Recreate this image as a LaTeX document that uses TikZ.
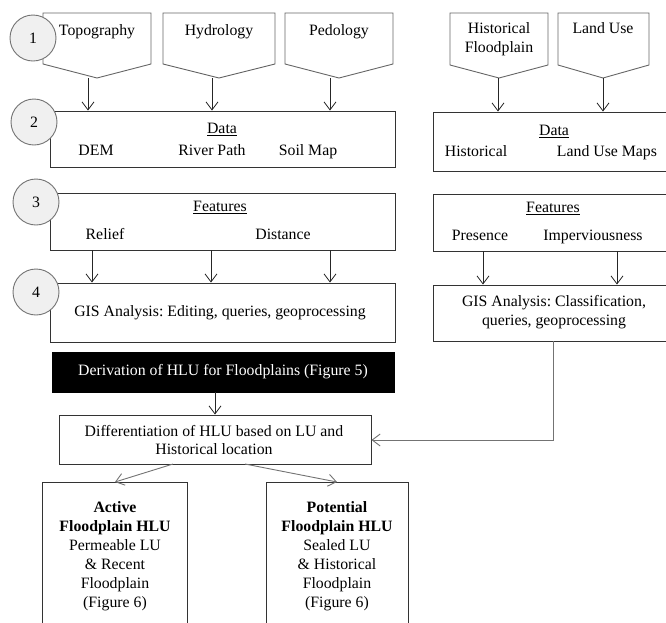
\documentclass[tikz,border=0pt]{standalone}
\usepackage{fontspec}
\setmainfont{Liberation Serif}
\usetikzlibrary{arrows.meta,fit}
\newcommand\myfs{\fontsize{15.8}{18.5}\selectfont\frenchspacing}
\begin{document}
\frenchspacing
\begin{tikzpicture}[x=1pt,y=-1pt,
  every node/.style={font=\myfs},
  bx/.style={draw=black!80, line width=0.9pt, fill=white, inner sep=0pt},
  blk/.style={draw=black, fill=black, inner sep=0pt},
  pent/.style={draw=black!60, line width=0.9pt, fill=white},
  num/.style={circle, draw=black!55, fill=black!6, line width=0.9pt, minimum size=46pt, inner sep=0pt},
  arr/.style={draw=black!85, line width=0.8pt, -{Straight Barb[length=8pt,width=12pt]}},
  garr/.style={draw=black!55, line width=0.9pt, -{Straight Barb[length=8pt,width=12pt]}},
  lbl/.style={inner sep=0pt, text height=10.9pt, text depth=3.5pt, align=center},
  lbl2/.style={inner sep=0pt, align=center, font=\fontsize{15.8}{19}\selectfont\frenchspacing}
]
\useasboundingbox (0,0) rectangle (666,622);
\clip (0,0) rectangle (666,622);

% pentagons (left group)
\draw[pent] (43,13) -- (151,13) -- (151,64) -- (97,78) -- (43,64) -- cycle;
\draw[pent] (163,13) -- (275,13) -- (275,64) -- (219,78) -- (163,64) -- cycle;
\draw[pent] (285,13) -- (393,13) -- (393,64) -- (339,78) -- (285,64) -- cycle;
% pentagons (right group)
\draw[pent] (450,13) -- (548,13) -- (548,65) -- (499,78) -- (450,65) -- cycle;
\draw[pent] (558,13) -- (649,13) -- (649,65) -- (603,78) -- (558,65) -- cycle;

\node[lbl] (topo) at (97,32) {Topography};
\node[lbl] (hydro) at (219,32) {Hydrology};
\node[lbl] (pedo) at (339,32) {Pedology};
\node[lbl2] (histfp) at (499,39) {Historical\\Floodplain};
\node[lbl] (landuse) at (603,30) {Land Use};

\coordinate (ptopo) at (88,78);
\coordinate (phydro) at (212,78);
\coordinate (ppedo) at (330,78);
\coordinate (phist) at (498,78);
\coordinate (pland) at (603,78);

% Data boxes
\node[bx, fit={(50,111) (395,167)}] (dataL) {};
\node[bx, fit={(433,112) (690,171)}] (dataR) {};
\node[lbl] (dataLt) at (222,130) {\underline{Data}};
\node[lbl] (dem) at (96,152) {DEM};
\node[lbl] (river) at (212,152) {River Path};
\node[lbl] (soil) at (308,152) {Soil Map};
\node[lbl] (dataRt) at (554,132) {\underline{Data}};
\node[lbl] (histm) at (476,153) {Historical};
\node[lbl] (lum) at (607,153) {Land Use Maps};

\draw[arr] (ptopo) -- (ptopo |- dataL.north);
\draw[arr] (phydro) -- (phydro |- dataL.north);
\draw[arr] (ppedo) -- (ppedo |- dataL.north);
\draw[arr] (phist) -- (phist |- dataR.north);
\draw[arr] (pland) -- (pland |- dataR.north);

% Features boxes
\node[bx, fit={(50,193) (395,250)}] (featL) {};
\node[bx, fit={(433,194) (690,251)}] (featR) {};
\node[lbl] (featLt) at (220,208) {\underline{Features}};
\node[lbl] (relief) at (105,236) {Relief};
\node[lbl] (dist) at (283,236) {Distance};
\node[lbl] (featRt) at (553,209) {\underline{Features}};
\node[lbl] (pres) at (480,237) {Presence};
\node[lbl] (imperv) at (593,237) {Imperviousness};

% GIS boxes
\node[bx, fit={(50,283) (395,342)}] (gisL) {};
\node[bx, fit={(433,285) (690,341)}] (gisR) {};
\node[lbl] (gisLt) at (220,313) {GIS Analysis: Editing, queries, geoprocessing};
\node[lbl2] (gisRt) at (554,312) {GIS Analysis: Classification,\\queries, geoprocessing};

\coordinate (f1) at (92,250);
\coordinate (f2) at (211,250);
\coordinate (f3) at (330,250);
\coordinate (f4) at (483,251);
\coordinate (f5) at (617,251);
\draw[arr] (f1) -- (f1 |- gisL.north);
\draw[arr] (f2) -- (f2 |- gisL.north);
\draw[arr] (f3) -- (f3 |- gisL.north);
\draw[arr] (f4) -- (f4 |- gisR.north);
\draw[arr] (f5) -- (f5 |- gisR.north);

% black box
\node[blk, fit={(52,352) (394,392)}] (deriv) {};
\node[lbl, text=white] (derivt) at (223,372) {Derivation of HLU for Floodplains (Figure 5)};

% differentiation box
\node[bx, fit={(59,415) (371,464)}] (diff) {};
\node[lbl2, font=\fontsize{15.8}{17.5}\selectfont\frenchspacing] (difft) at (214,440) {Differentiation of HLU based on LU and\\Historical location};
\coordinate (dv) at (215,392);
\draw[arr] (dv) -- (dv |- diff.north);

\coordinate (gisRb) at (553,341);
\draw[garr] (gisRb) |- (diff.east |- 0,440);

% bottom boxes
\node[bx, fit={(42,482) (187,650)}] (active) {};
\node[bx, fit={(266,482) (408,650)}] (potential) {};
\node[lbl2] (activet) at (115,556) {\textbf{Active}\\\textbf{Floodplain HLU}\\Permeable LU\\\& Recent\\Floodplain\\(Figure 6)};
\node[lbl2] (potentialt) at (337,556) {\textbf{Potential}\\\textbf{Floodplain HLU}\\Sealed LU\\\& Historical\\Floodplain\\(Figure 6)};

\coordinate (d1) at (173,464);
\coordinate (d2) at (245,464);
\coordinate (a1) at (115,482);
\coordinate (a2) at (337,482);
\draw[garr] (d1) -- (a1);
\draw[garr] (d2) -- (a2);

% numbered circles
\node[num] (n1) at (33,38) {1};
\node[num] (n2) at (34,122) {2};
\node[num] (n3) at (36,202) {3};
\node[num] (n4) at (36,292) {4};
\end{tikzpicture}
\end{document}
